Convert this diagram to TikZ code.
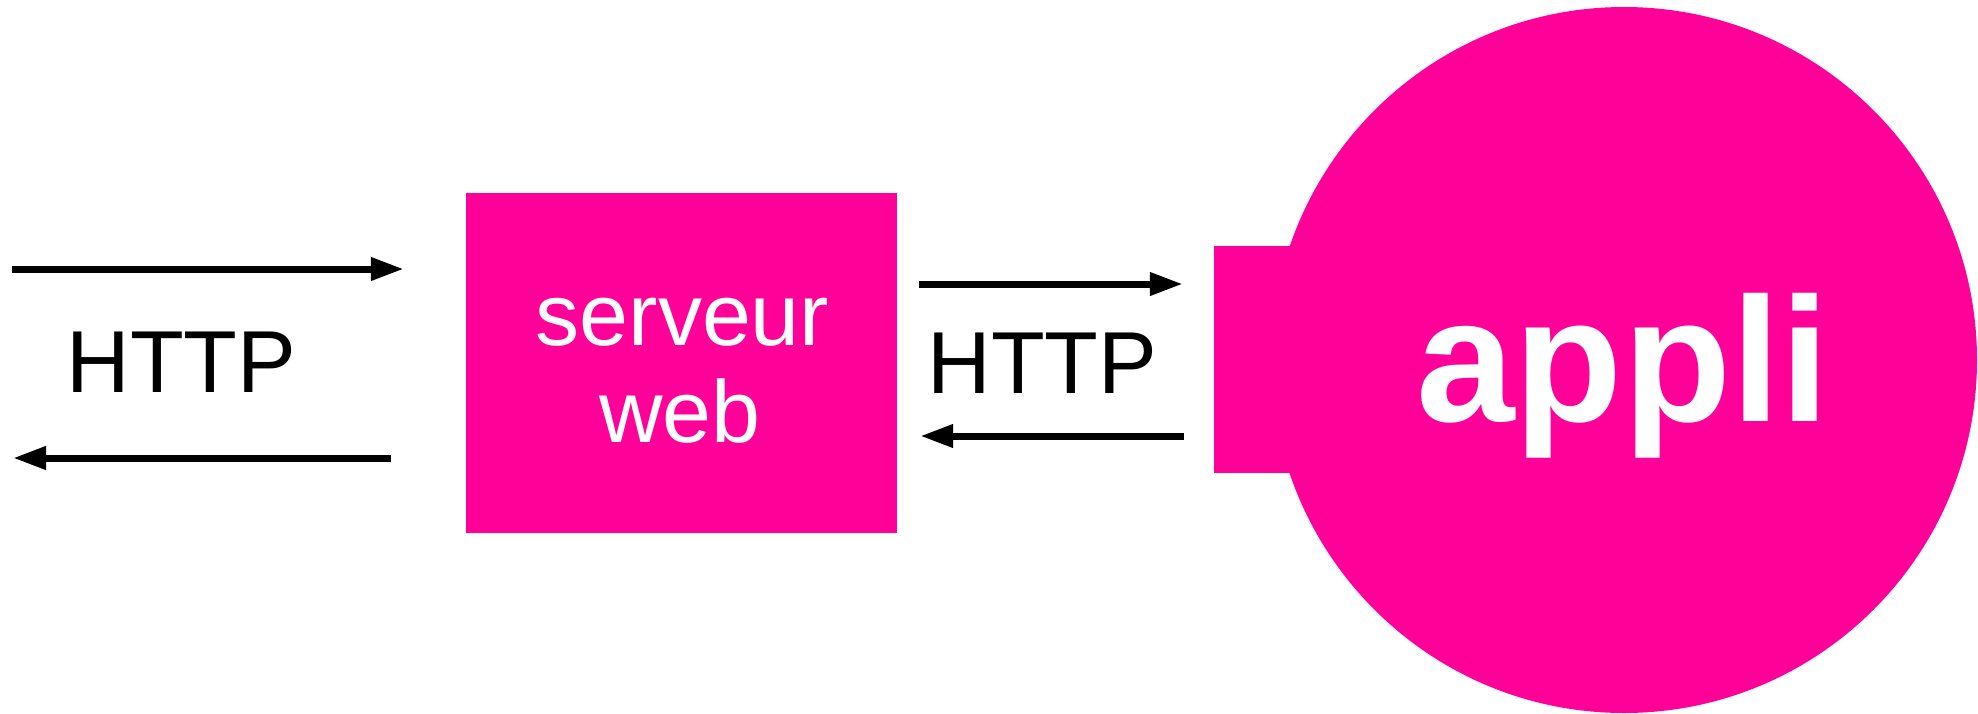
\documentclass[tikz,border=0pt]{standalone}
\usepackage{fontspec}
\setmainfont{Liberation Sans}
\usepackage{tikz}
\usetikzlibrary{arrows.meta}
\definecolor{rose}{RGB}{255,0,153}

\begin{document}
\begin{tikzpicture}[x=1pt, y=-1pt,
	bloc/.style={rectangle, fill=rose, inner sep=0pt},
	texte/.style={anchor=base, inner sep=0pt, font=\fontsize{88}{98}\selectfont},
	fleche/.style={line width=7pt, -{Triangle[length=33pt, width=22pt]}}]
	\useasboundingbox (0,0) rectangle (1978,713);

	%%% SERVEUR
	\node[bloc, minimum width=431pt, minimum height=340pt] (serveur) at (681.5,363) {};
	\node[texte, text=white] (serveur1) at (682.5,345) {serveur};
	\node[texte, text=white] (serveur2) at (680,442) {web};

	%%% APPLI
	\node[bloc, minimum width=76pt, minimum height=227pt] (prise) at (1252,359.5) {};
	\node[circle, fill=rose, inner sep=0pt, minimum size=706pt] (appli) at (1624,360) {};
	\node[anchor=base, inner sep=0pt, text=white, font=\bfseries\fontsize{177}{200}\selectfont] (appli1) at (1623,421) {appli};

	%%% CLIENT
	\coordinate (client1) at (12,269);
	\coordinate (client2) at (13,458);
	\node[texte] (http1) at (181.5,392) {HTTP};
	\node[texte] (http2) at (1042.5,393) {HTTP};

	%%% CONNEXIONS
	\draw[fleche, shorten >=62pt] (client1) -- (serveur.west |- client1);
	\draw[fleche, shorten <=75pt] (serveur.west |- client2) -- (client2);
	\draw[fleche, shorten <=22pt, shorten >=31pt] (serveur.east |- 0,284) -- (prise.west |- 0,284);
	\draw[fleche, shorten <=30pt, shorten >=23pt] (prise.west |- 0,436) -- (serveur.east |- 0,436);
\end{tikzpicture}
\end{document}
